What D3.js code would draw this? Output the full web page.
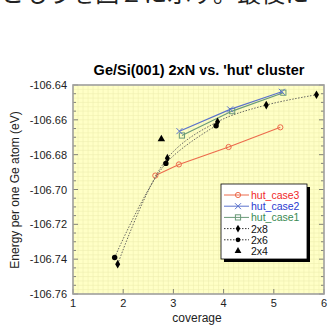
<!DOCTYPE html>
<html>
<head>
<meta charset="utf-8">
<script src="https://cdn.jsdelivr.net/npm/d3@7"></script>
<style>
  body { margin: 0; background: #fff; }
  svg { display: block; font-family: "Liberation Sans", Arial, sans-serif; }
</style>
</head>
<body>
<svg id="chart" width="328" height="325"></svg>
<script>
// data
const hutCase3 = [[2.64, -106.692], [3.11, -106.6856], [4.10, -106.6756], [5.13, -106.6643]];
const hutCase2 = [[3.12, -106.6665], [4.13, -106.654], [5.16, -106.6439]];
const hutCase1 = [[3.17, -106.669], [4.17, -106.655], [5.19, -106.6444]];
const s2x8 = [[1.89, -106.7429], [2.88, -106.682], [3.88, -106.6611], [4.85, -106.6515], [5.85, -106.6456]];
const s2x6 = [[1.83, -106.739], [2.85, -106.685], [3.85, -106.6634]];
const s2x4 = [[2.76, -106.671]];
const xTicks = [1, 2, 3, 4, 5, 6];
const yTicks = [-106.76, -106.74, -106.72, -106.70, -106.68, -106.66, -106.64];

const svg = d3.select('#chart');

// cut-off line of text from the page above
svg.append('text')
    .attr('x', 0).attr('y', 2)
    .attr('font-family', '"Noto Sans CJK JP"')
    .attr('font-size', 24)
    .attr('fill', '#222')
    .text('ともうを図２に示す。最後に');

const x = d3.scaleLinear().domain([1, 6]).range([73, 324]);
const y = d3.scaleLinear().domain([-106.76, -106.64]).range([294, 85]);

// plot background + fine grid
svg.append('rect')
    .attr('x', 73).attr('y', 85)
    .attr('width', 251).attr('height', 209)
    .attr('fill', '#ffffc6');

const grid = svg.append('g').attr('stroke', '#eeeeb0').attr('stroke-width', 0.6);
grid.selectAll('.gx').data(d3.range(1, 6.001, 0.1)).enter().append('line')
    .attr('x1', d => x(d)).attr('x2', d => x(d))
    .attr('y1', 85).attr('y2', 294);
grid.selectAll('.gy').data(d3.range(-106.76, -106.6399, 0.0025)).enter().append('line')
    .attr('x1', 73).attr('x2', 324)
    .attr('y1', d => y(d)).attr('y2', d => y(d));

// ticks
const minorY = d3.range(-106.76, -106.6399, 0.005);
const ticks = svg.append('g').attr('stroke', '#666').attr('stroke-width', 0.8);
ticks.selectAll('.tl').data(minorY).enter().append('line')
    .attr('x1', 73).attr('x2', (d, i) => i % 4 === 0 ? 78 : 76)
    .attr('y1', d => y(d)).attr('y2', d => y(d));
ticks.selectAll('.tr').data(minorY).enter().append('line')
    .attr('x1', 324).attr('x2', (d, i) => i % 4 === 0 ? 319 : 321)
    .attr('y1', d => y(d)).attr('y2', d => y(d));
ticks.selectAll('.tb').data(xTicks).enter().append('line')
    .attr('x1', d => x(d)).attr('x2', d => x(d))
    .attr('y1', 294).attr('y2', 289);

// frame
svg.append('rect')
    .attr('x', 73).attr('y', 85)
    .attr('width', 251).attr('height', 209)
    .attr('fill', 'none')
    .attr('stroke', '#a0a0a0')
    .attr('stroke-width', 1.6);

// tick labels
svg.append('g').selectAll('text').data(yTicks).enter().append('text')
    .attr('x', 67).attr('y', d => y(d) + 4)
    .attr('text-anchor', 'end')
    .attr('font-size', 11)
    .attr('fill', '#222')
    .text(d => d.toFixed(2));
svg.append('g').selectAll('text').data(xTicks).enter().append('text')
    .attr('x', d => x(d)).attr('y', 307)
    .attr('text-anchor', 'middle')
    .attr('font-size', 11)
    .attr('fill', '#222')
    .text(d => d);

// titles
svg.append('text')
    .attr('x', 199).attr('y', 75)
    .attr('text-anchor', 'middle')
    .attr('font-size', 14.5)
    .attr('font-weight', 'bold')
    .text("Ge/Si(001) 2xN vs. 'hut' cluster");
svg.append('text')
    .attr('x', 197).attr('y', 322)
    .attr('text-anchor', 'middle')
    .attr('font-size', 12)
    .attr('fill', '#222')
    .text('coverage');
svg.append('text')
    .attr('transform', 'translate(19,190) rotate(-90)')
    .attr('text-anchor', 'middle')
    .attr('font-size', 12)
    .attr('fill', '#222')
    .text('Energy per one Ge atom (eV)');

// series
const lineStraight = d3.line().x(d => x(d[0])).y(d => y(d[1]));
const lineCurve = d3.line().x(d => x(d[0])).y(d => y(d[1])).curve(d3.curveCatmullRom);

const plot = svg.append('g');

function solidSeries(data, color, marker) {
  plot.append('path').datum(data)
      .attr('d', lineStraight)
      .attr('fill', 'none').attr('stroke', color).attr('stroke-width', 1.1);
  const g = plot.append('g');
  data.forEach(d => marker(g, x(d[0]), y(d[1]), color));
}

function circleMark(g, cx, cy, color) {
  g.append('circle').attr('cx', cx).attr('cy', cy).attr('r', 2.6)
      .attr('fill', 'none').attr('stroke', color).attr('stroke-width', 1);
}
function crossMark(g, cx, cy, color) {
  g.append('path').attr('d', `M${cx - 3},${cy - 3}L${cx + 3},${cy + 3}M${cx - 3},${cy + 3}L${cx + 3},${cy - 3}`)
      .attr('stroke', color).attr('stroke-width', 1);
}
function squareMark(g, cx, cy, color) {
  g.append('rect').attr('x', cx - 2.6).attr('y', cy - 2.6).attr('width', 5.2).attr('height', 5.2)
      .attr('fill', 'none').attr('stroke', color).attr('stroke-width', 1);
}

solidSeries(hutCase3, '#ec6a4c', circleMark);
solidSeries(hutCase1, '#6a9a78', squareMark);
solidSeries(hutCase2, '#5a72cc', crossMark);

[s2x8, s2x6].forEach(data => {
  plot.append('path').datum(data)
      .attr('d', lineCurve)
      .attr('fill', 'none').attr('stroke', '#555')
      .attr('stroke-width', 0.9).attr('stroke-dasharray', '1.5,1.5');
});
plot.selectAll('.p8').data(s2x8).enter().append('path')
    .attr('transform', d => `translate(${x(d[0])},${y(d[1])})`)
    .attr('d', d3.symbol(d3.symbolDiamond, 22))
    .attr('fill', '#000');
plot.selectAll('.p6').data(s2x6).enter().append('circle')
    .attr('cx', d => x(d[0])).attr('cy', d => y(d[1])).attr('r', 2.7)
    .attr('fill', '#000');
plot.selectAll('.p4').data(s2x4).enter().append('path')
    .attr('transform', d => `translate(${x(d[0])},${y(d[1])})`)
    .attr('d', d3.symbol(d3.symbolTriangle, 24))
    .attr('fill', '#000');

// legend
const legendItems = [
  { name: 'hut_case3', color: '#ec6a4c', text: '#f02828', mark: 'circle', dash: null },
  { name: 'hut_case2', color: '#5a72cc', text: '#2a3ad0', mark: 'cross', dash: null },
  { name: 'hut_case1', color: '#6a9a78', text: '#3a8a52', mark: 'square', dash: null },
  { name: '2x8', color: '#333', text: '#111', mark: 'diamond', dash: '1.5,1.5' },
  { name: '2x6', color: '#333', text: '#111', mark: 'dot', dash: '1.5,1.5' },
  { name: '2x4', color: '#333', text: '#111', mark: 'triangle', dash: 'none' }
];
const lg = svg.append('g');
lg.append('rect').attr('x', 224).attr('y', 187).attr('width', 86).attr('height', 75).attr('fill', '#000');
lg.append('rect').attr('x', 221).attr('y', 184).attr('width', 86).attr('height', 75)
    .attr('fill', '#fff').attr('stroke', '#000').attr('stroke-width', 0.8);
legendItems.forEach((it, i) => {
  const ly = 195 + i * 11.2;
  if (it.mark !== 'triangle') {
    lg.append('line').attr('x1', 224).attr('x2', 249).attr('y1', ly).attr('y2', ly)
        .attr('stroke', it.color).attr('stroke-width', 1)
        .attr('stroke-dasharray', it.dash);
  }
  const cx = 238;
  if (it.mark === 'circle') circleMark(lg, cx, ly, it.color);
  if (it.mark === 'cross') crossMark(lg, cx, ly, it.color);
  if (it.mark === 'square') squareMark(lg, cx, ly, it.color);
  if (it.mark === 'diamond') lg.append('path').attr('transform', `translate(${cx},${ly})`)
      .attr('d', d3.symbol(d3.symbolDiamond, 18)).attr('fill', '#000');
  if (it.mark === 'dot') lg.append('circle').attr('cx', cx).attr('cy', ly).attr('r', 2.4).attr('fill', '#000');
  if (it.mark === 'triangle') lg.append('path').attr('transform', `translate(${cx},${ly})`)
      .attr('d', d3.symbol(d3.symbolTriangle, 20)).attr('fill', '#000');
  lg.append('text').attr('x', 251).attr('y', ly + 4)
      .attr('font-size', 10.5).attr('fill', it.text).text(it.name);
});
</script>
</body>
</html>
